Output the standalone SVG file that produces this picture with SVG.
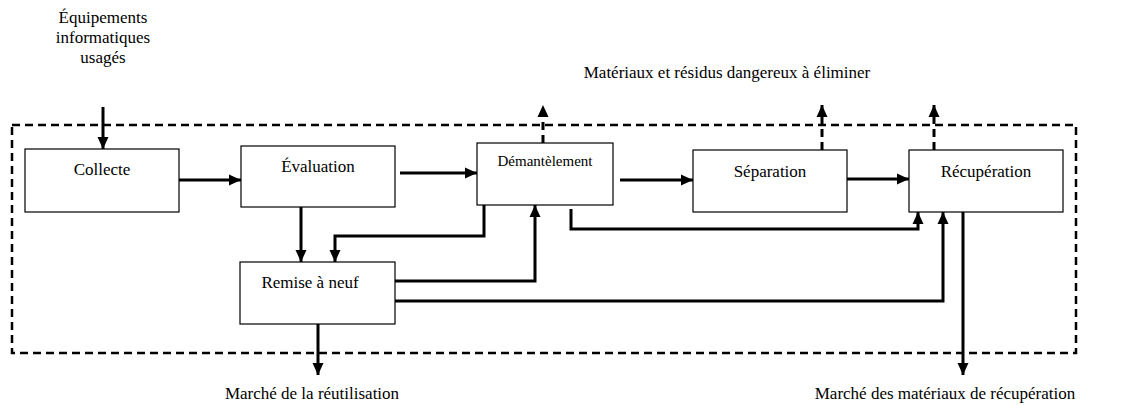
<svg xmlns="http://www.w3.org/2000/svg" width="1126" height="405" viewBox="0 0 1126 405">
<style>
.box{fill:#fff;stroke:#000;stroke-width:1.2}
.t{font-family:"Liberation Serif","Times New Roman",serif;font-size:17px;fill:#000}
.c{fill:none;stroke:#000;stroke-width:3}
.d{fill:none;stroke:#000;stroke-width:3;stroke-dasharray:8 5}
.frame{fill:none;stroke:#000;stroke-width:2.5;stroke-dasharray:8 5}
</style>
<defs>
<marker id="ah" markerUnits="userSpaceOnUse" markerWidth="14" markerHeight="14" viewBox="0 0 14 14" refX="13" refY="7" orient="auto">
<path d="M1,1.5 L13,7 L1,12.5 Z" fill="#000"/>
</marker>
</defs>
<rect class="frame" x="12" y="125" width="1064" height="228"/>
<g id="connectors">
<path class="c" d="M103,107 V149" marker-end="url(#ah)"/>
<path class="c" d="M179,180 H241" marker-end="url(#ah)"/>
<path class="c" d="M400,173 H477" marker-end="url(#ah)"/>
<path class="c" d="M620,180 H693" marker-end="url(#ah)"/>
<path class="c" d="M847,179 H909" marker-end="url(#ah)"/>
<path class="d" d="M543,143 V105" marker-end="url(#ah)"/>
<path class="d" d="M822,150 V105" marker-end="url(#ah)"/>
<path class="d" d="M934,150 V105" marker-end="url(#ah)"/>
<path class="c" d="M301,207 V262" marker-end="url(#ah)"/>
<path class="c" d="M484,205 V236 H335 V262" marker-end="url(#ah)"/>
<path class="c" d="M395,281 H535 V205" marker-end="url(#ah)"/>
<path class="c" d="M395,301 H943 V212" marker-end="url(#ah)"/>
<path class="c" d="M571,209 V229 H918 V212" marker-end="url(#ah)"/>
<path class="c" d="M963,212 V375" marker-end="url(#ah)"/>
<path class="c" d="M318,324 V375" marker-end="url(#ah)"/>
</g>
<g id="n_collecte"><rect class="box" x="25" y="149" width="154" height="63"/><text class="t" x="102" y="175" text-anchor="middle">Collecte</text></g>
<g id="n_evaluation"><rect class="box" x="241" y="146" width="154" height="61"/><text class="t" x="318" y="172" text-anchor="middle">Évaluation</text></g>
<g id="n_demantelement"><rect class="box" x="477" y="143" width="136" height="62"/><text class="t" x="545" y="166" text-anchor="middle" style="font-size:15px">Démantèlement</text></g>
<g id="n_separation"><rect class="box" x="693" y="150" width="154" height="62"/><text class="t" x="770" y="177" text-anchor="middle">Séparation</text></g>
<g id="n_recuperation"><rect class="box" x="909" y="150" width="154" height="62"/><text class="t" x="986" y="177" text-anchor="middle">Récupération</text></g>
<g id="n_remise"><rect class="box" x="240" y="262" width="155" height="62"/><text class="t" x="310" y="288" text-anchor="middle">Remise à neuf</text></g>
<g id="l_input"><text class="t" x="103" y="23" text-anchor="middle">Équipements</text><text class="t" x="103" y="43" text-anchor="middle">informatiques</text><text class="t" x="103" y="63" text-anchor="middle">usagés</text></g>
<g id="l_dangereux"><text class="t" x="727" y="78" text-anchor="middle">Matériaux et résidus dangereux à éliminer</text></g>
<g id="l_reutilisation"><text class="t" x="312" y="399" text-anchor="middle">Marché de la réutilisation</text></g>
<g id="l_materiaux"><text class="t" x="945" y="399" text-anchor="middle">Marché des matériaux de récupération</text></g>
</svg>
